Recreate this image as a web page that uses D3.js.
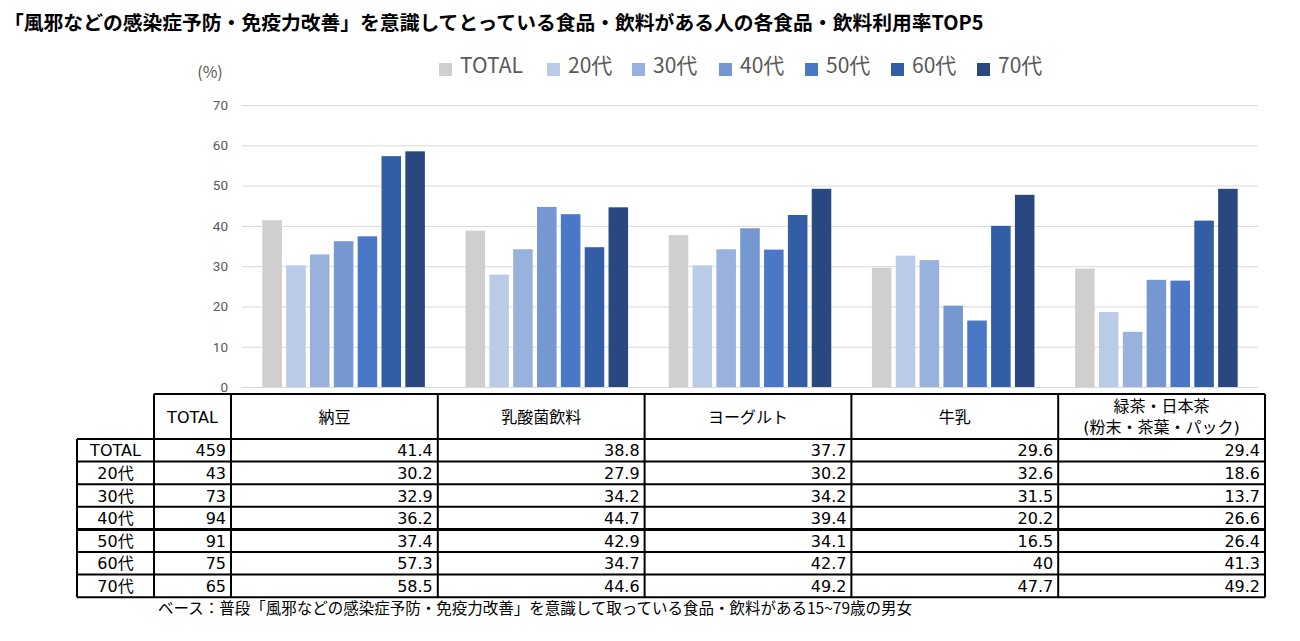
<!DOCTYPE html>
<html>
<head>
<meta charset="utf-8">
<script src="https://cdn.jsdelivr.net/npm/d3@7"></script>
<style>
  body { margin: 0; background: #fff; }
  svg { display: block; font-family: "Noto Sans CJK JP", "Noto Sans", sans-serif; }
  .table text { font-family: "DejaVu Sans", "Noto Sans CJK JP", sans-serif; }
</style>
</head>
<body>
<div id="chart"></div>
<script>
// data
var categories = ["納豆", "乳酸菌飲料", "ヨーグルト", "牛乳", "緑茶・日本茶（粉末・茶葉・パック）"];
var headerLines = [["納豆"], ["乳酸菌飲料"], ["ヨーグルト"], ["牛乳"], ["緑茶・日本茶", "(粉末・茶葉・パック)"]];
var groups = ["TOTAL", "20代", "30代", "40代", "50代", "60代", "70代"];
var sampleN = [459, 43, 73, 94, 91, 75, 65];
var valTOTAL = [41.4, 38.8, 37.7, 29.6, 29.4];
var val20 = [30.2, 27.9, 30.2, 32.6, 18.6];
var val30 = [32.9, 34.2, 34.2, 31.5, 13.7];
var val40 = [36.2, 44.7, 39.4, 20.2, 26.6];
var val50 = [37.4, 42.9, 34.1, 16.5, 26.4];
var val60 = [57.3, 34.7, 42.7, 40, 41.3];
var val70 = [58.5, 44.6, 49.2, 47.7, 49.2];
var yTicks = [0, 10, 20, 30, 40, 50, 60, 70];
var colors = ["#d0cece", "#bacbe8", "#99b1dd", "#7598d2", "#4a78c6", "#335ea6", "#28487f"];

var series = [valTOTAL, val20, val30, val40, val50, val60, val70];

var width = 1300, height = 641;

var svg = d3.select("#chart").append("svg")
  .attr("width", width)
  .attr("height", height);

// title
svg.append("text")
  .attr("x", 4)
  .attr("y", 30)
  .attr("font-size", 19.8)
  .attr("font-weight", "bold")
  .attr("fill", "#000")
  .text("「風邪などの感染症予防・免疫力改善」を意識してとっている食品・飲料がある人の各食品・飲料利用率TOP5");

// scales
var x0 = d3.scaleBand()
  .domain(categories)
  .range([242, 1258])
  .paddingInner(0.2)
  .paddingOuter(0.1);
var x1 = d3.scaleBand()
  .domain(groups)
  .range([0, x0.bandwidth()])
  .paddingInner(0.18)
  .paddingOuter(0);
var y = d3.scaleLinear()
  .domain([0, 70])
  .range([387, 105]);

// gridlines + y labels
var yAxis = d3.axisLeft(y)
  .tickValues(yTicks)
  .tickSize(-(x0.range()[1] - x0.range()[0]))
  .tickPadding(14);
var gy = svg.append("g")
  .attr("transform", "translate(242,0)")
  .call(yAxis);
gy.select(".domain").remove();
gy.selectAll(".tick line").attr("stroke", "#d9d9d9").attr("stroke-width", 1);
gy.selectAll(".tick text")
  .attr("fill", "#595959")
  .attr("font-size", 13.5)
  .attr("font-family", "Roboto, 'Noto Sans', sans-serif");

svg.append("text")
  .attr("x", 210)
  .attr("y", 78)
  .attr("text-anchor", "middle")
  .attr("font-size", 16)
  .attr("fill", "#595959")
  .text("(%)");

// bars
var cat = svg.selectAll("g.cat")
  .data(categories)
  .enter().append("g")
  .attr("class", "cat")
  .attr("transform", function(d) { return "translate(" + x0(d) + ",0)"; });

cat.selectAll("rect")
  .data(function(d, ci) { return groups.map(function(g, gi) { return {g: g, gi: gi, v: series[gi][ci]}; }); })
  .enter().append("rect")
  .attr("x", function(d) { return x1(d.g); })
  .attr("y", function(d) { return y(d.v); })
  .attr("width", x1.bandwidth())
  .attr("height", function(d) { return y(0) - y(d.v); })
  .attr("fill", function(d) { return colors[d.gi]; });

// legend
var legendX = [439, 547, 632, 719, 805, 891, 977];
var legend = svg.selectAll("g.legend")
  .data(groups)
  .enter().append("g")
  .attr("class", "legend")
  .attr("transform", function(d, i) { return "translate(" + legendX[i] + ",63)"; });
legend.append("rect")
  .attr("width", 13)
  .attr("height", 13)
  .attr("fill", function(d, i) { return colors[i]; });
legend.append("text")
  .attr("x", 21)
  .attr("y", 9.5)
  .attr("font-size", 21)
  .attr("fill", "#595959")
  .text(function(d) { return d; });

// table
var tx = d3.scaleBand().domain(categories).range([231, 1265]);
var rowTop = 439, rowH = 22.6, headTop = 394;
var labX0 = 77, labX1 = 154, totX1 = 231;
var tableBottom = rowTop + rowH * groups.length;
var table = svg.append("g").attr("class", "table");
var fs = 16;

// header text
table.append("text")
  .attr("x", (labX1 + totX1) / 2)
  .attr("y", (headTop + rowTop) / 2 + 6)
  .attr("text-anchor", "middle")
  .attr("font-size", fs)
  .text("TOTAL");
categories.forEach(function(c, ci) {
  var lines = headerLines[ci];
  lines.forEach(function(l, li) {
    table.append("text")
      .attr("x", tx(c) + tx.bandwidth() / 2)
      .attr("y", lines.length == 1 ? (headTop + rowTop) / 2 + 6 : headTop + 18 + li * 21)
      .attr("text-anchor", "middle")
      .attr("font-size", fs)
      .text(l);
  });
});

// body text
groups.forEach(function(g, gi) {
  var cy = rowTop + rowH * gi + rowH / 2 + 6;
  table.append("text")
    .attr("x", (labX0 + labX1) / 2)
    .attr("y", cy)
    .attr("text-anchor", "middle")
    .attr("font-size", fs)
    .text(g);
  table.append("text")
    .attr("x", totX1 - 5)
    .attr("y", cy)
    .attr("text-anchor", "end")
    .attr("font-size", fs)
    .text(sampleN[gi]);
  categories.forEach(function(c, ci) {
    table.append("text")
      .attr("x", tx(c) + tx.bandwidth() - 5)
      .attr("y", cy)
      .attr("text-anchor", "end")
      .attr("font-size", fs)
      .text(String(series[gi][ci]));
  });
});

// borders
var lineStyle = function(sel, w) { return sel.attr("stroke", "#000").attr("stroke-width", w || 2).attr("fill", "none"); };
// header top
lineStyle(table.append("line").attr("x1", labX1).attr("x2", 1265).attr("y1", headTop).attr("y2", headTop));
// row lines
for (var r = 0; r <= groups.length; r++) {
  var yy = rowTop + rowH * r;
  lineStyle(table.append("line").attr("x1", labX0).attr("x2", 1265).attr("y1", yy).attr("y2", yy), r == 4 ? 3 : 2);
}
// verticals
lineStyle(table.append("line").attr("x1", labX0).attr("x2", labX0).attr("y1", rowTop).attr("y2", tableBottom));
lineStyle(table.append("line").attr("x1", labX1).attr("x2", labX1).attr("y1", headTop).attr("y2", tableBottom));
lineStyle(table.append("line").attr("x1", totX1).attr("x2", totX1).attr("y1", headTop).attr("y2", tableBottom));
categories.forEach(function(c) {
  var xx = tx(c) + tx.bandwidth();
  lineStyle(table.append("line").attr("x1", xx).attr("x2", xx).attr("y1", headTop).attr("y2", tableBottom));
});

// footnote
svg.append("text")
  .attr("x", 158)
  .attr("y", 614)
  .attr("font-size", 15.5)
  .attr("fill", "#000")
  .text("ベース：普段「風邪などの感染症予防・免疫力改善」を意識して取っている食品・飲料がある15~79歳の男女");
</script>
</body>
</html>
